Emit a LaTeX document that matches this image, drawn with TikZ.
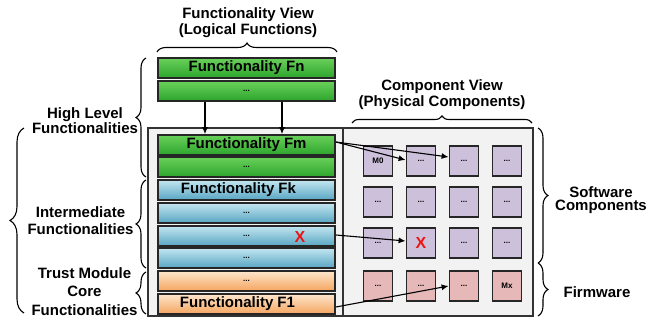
\documentclass[tikz,border=0pt]{standalone}
\usepackage{fontspec}
\setmainfont{Liberation Sans}
\usetikzlibrary{arrows.meta,decorations.pathreplacing,shadings}
\definecolor{gtop}{RGB}{105,208,90}
\definecolor{gbot}{RGB}{45,165,45}
\definecolor{btop}{RGB}{195,230,240}
\definecolor{bbot}{RGB}{88,165,195}
\definecolor{otop}{RGB}{253,230,205}
\definecolor{obot}{RGB}{245,165,95}
\definecolor{sw}{RGB}{204,192,218}
\definecolor{fw}{RGB}{230,185,184}
\definecolor{panel}{RGB}{242,242,242}
\definecolor{xred}{RGB}{235,20,20}
\tikzset{
  x=1pt, y=-1pt,
  lbl/.style={font=\fontsize{15}{16}\selectfont\bfseries, inner sep=0pt, align=center},
  fbox/.style={draw=black!85, line width=1.8pt, minimum width=177pt, minimum height=20pt, inner sep=0pt, font=\fontsize{15}{16}\selectfont\bfseries},
  dots/.style={font=\fontsize{8}{9}\selectfont\bfseries},
  gbox/.style={fbox, top color=gtop, bottom color=gbot},
  bbox/.style={fbox, top color=btop, bottom color=bbot},
  obox/.style={fbox, top color=otop, bottom color=obot},
  sq/.style={draw=black!85, line width=1.8pt, minimum width=29pt, minimum height=30pt, inner sep=0pt, font=\fontsize{8}{9}\selectfont\bfseries},
  swsq/.style={sq, fill=sw},
  fwsq/.style={sq, fill=fw},
  br/.style={decorate, line width=1.1pt},
  conn/.style={line width=1.1pt, -{Latex[length=7pt,width=6pt]}},
  redx/.style={text=xred, font=\fontsize{16}{16}\selectfont\bfseries, inner sep=0pt}
}
\begin{document}
\begin{tikzpicture}
\useasboundingbox (0,0) rectangle (649,320);
% panels
\node[draw=black!80, line width=1.2pt, fill=panel, minimum width=195pt, minimum height=188pt, inner sep=0pt] (lp) at (245.5,222) {};
\node[draw=black!80, line width=1.2pt, fill=panel, minimum width=190pt, minimum height=188pt, inner sep=0pt] (rp) at (438,222) {};
% titles
\node[lbl] (t1) at (248,23) {Functionality View\\(Logical Functions)};
\node[lbl] (t2) at (442,95) {Component View\\(Physical Components)};
% functionality boxes
\node[gbox] (fn) at (246.5,68) {Functionality Fn};
\node[gbox, dots] (g2) at (246.5,91) {...};
\node[gbox] (fm) at (246.5,145) {Functionality Fm};
\node[gbox, dots] (g4) at (246.5,167) {...};
\node[bbox] (fk) at (246.5,190) {\hspace*{-16pt}Functionality Fk};
\node[bbox, dots] (b2) at (246.5,213) {...};
\node[bbox, dots] (b3) at (246.5,236) {...};
\node[bbox, dots] (b4) at (246.5,258) {...};
\node[obox, dots] (o1) at (246.5,281) {...};
\node[obox] (f1) at (246.5,304) {\hspace*{-18pt}Functionality F1};
\node[redx] (x1) at (300,237) {X};
% vertical arrows
\draw[conn] ([xshift=-41.5pt]g2.south) -- ([xshift=-41.5pt]fm.north);
\draw[conn] ([xshift=35.5pt]g2.south) -- ([xshift=35.5pt]fm.north);
% component squares
\node[swsq] (s11) at (378,161) {M0};
\node[swsq] (s12) at (421,161) {...};
\node[swsq] (s13) at (464,161) {...};
\node[swsq] (s14) at (507,161) {...};
\node[swsq] (s21) at (378,202) {...};
\node[swsq] (s22) at (421,202) {...};
\node[swsq] (s23) at (464,202) {...};
\node[swsq] (s24) at (507,202) {...};
\node[swsq] (s31) at (378,243) {...};
\node[swsq] (s32) at (421,243) {};
\node[swsq] (s33) at (464,243) {...};
\node[swsq] (s34) at (507,243) {...};
\node[fwsq] (s41) at (378,286) {...};
\node[fwsq] (s42) at (421,286) {...};
\node[fwsq] (s43) at (464,286) {...};
\node[fwsq] (s44) at (507,286) {Mx};
\node[redx] (x2) at (s32) {X};
% connectors
\draw[conn] ([yshift=3pt]fm.east) -- ([yshift=1pt]s12.west);
\draw[conn] ([yshift=3pt]fm.east) -- ([yshift=4pt]s13.west);
\draw[conn] ([yshift=1pt]b3.east) -- ([yshift=2pt]s32.west);
\draw[conn] ([yshift=-3pt]f1.east) -- (s43.west);
% braces
\draw[br, decoration={brace, amplitude=9pt}] (157,52) -- (337,52);
\draw[br, decoration={brace, amplitude=7pt}] (352,123) -- (532,123);
\draw[br, decoration={brace, amplitude=10pt}] (146,177) -- (146,58);
\draw[br, decoration={brace, amplitude=10pt}] (146,268) -- (146,180);
\draw[br, decoration={brace, amplitude=10pt}] (146,314) -- (146,272);
\draw[br, decoration={brace, amplitude=14pt}] (24,313) -- (24,128);
\draw[br, decoration={brace, amplitude=10pt}] (538,128) -- (538,263);
\draw[br, decoration={brace, amplitude=10pt}] (538,263) -- (538,316);
% side labels
\node[lbl, align=center, font=\fontsize{15}{13.5}\selectfont\bfseries] (hl) at (85,121) {High Level\\Functionalities};
\node[lbl, font=\fontsize{15}{17}\selectfont\bfseries] (im) at (80.5,220.5) {Intermediate\\Functionalities};
\node[lbl, font=\fontsize{15}{18.5}\selectfont\bfseries] (tm) at (84.5,291.5) {Trust Module\\Core\\Functionalities};
\node[lbl, font=\fontsize{15}{13.5}\selectfont\bfseries] (sc) at (601,200) {Software\\Components};
\node[lbl] (fwl) at (597,292) {Firmware};
\end{tikzpicture}
\end{document}
